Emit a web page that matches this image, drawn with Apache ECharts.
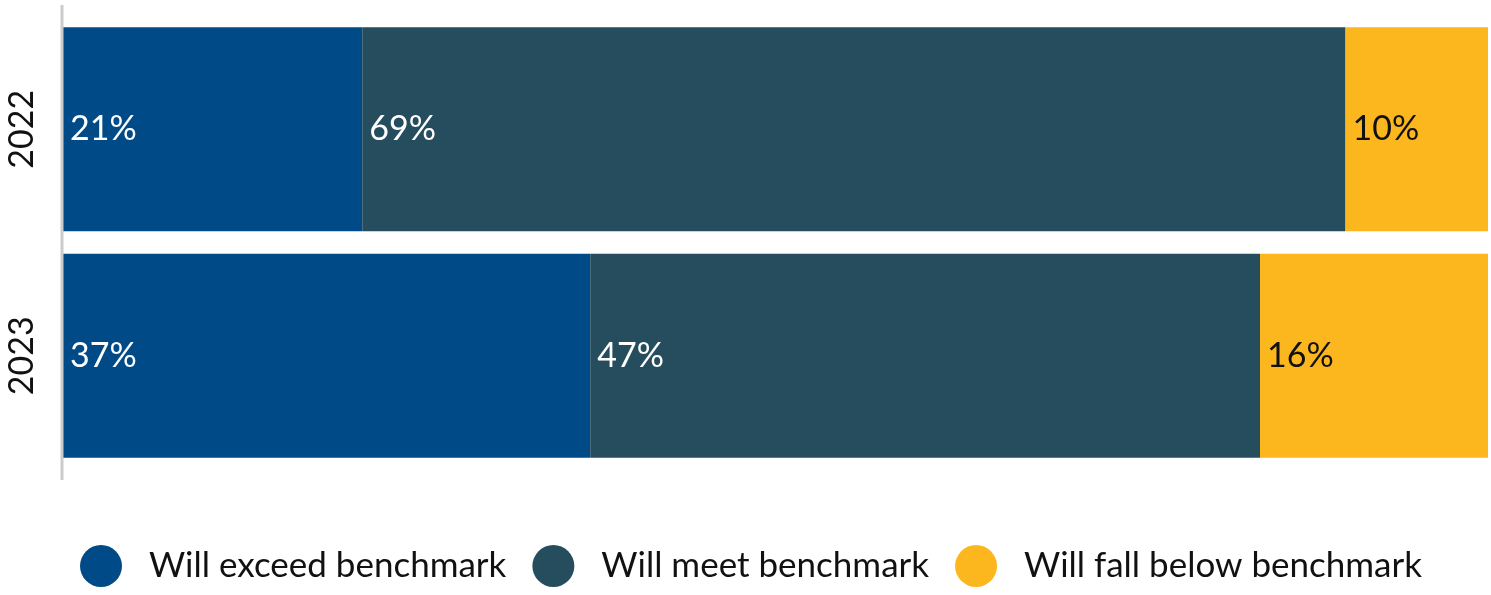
<!DOCTYPE html>
<html>
<head>
<meta charset="utf-8">
<script src="https://cdn.jsdelivr.net/npm/echarts@6/dist/echarts.min.js"></script>
<style>
html,body{margin:0;padding:0;background:#fff;}
#chart{width:1491px;height:595px;}
</style>
</head>
<body>
<div id="chart"></div>
<script>
const categories = ['2022', '2023'];
const seriesNames = ['Will exceed benchmark', 'Will meet benchmark', 'Will fall below benchmark'];
const exceedValues = [21, 37];
const meetValues = [69, 47];
const belowValues = [10, 16];
const colors = ['#004B87', '#264D5E', '#FDB71E'];
const labelColors = ['#ffffff', '#ffffff', '#111111'];

const FONT = 'Lato';
const FS = 34;
const chart = echarts.init(document.getElementById('chart'));
const values = [exceedValues, meetValues, belowValues];

const option = {
  animation: false,
  textStyle: { fontFamily: FONT },
  grid: { left: 63, right: 3, top: 16, height: 453, containLabel: false },
  xAxis: { type: 'value', min: 0, max: 100, show: false },
  yAxis: {
    type: 'category',
    data: categories,
    inverse: true,
    axisLine: { show: false },
    axisTick: { show: false },
    splitLine: { show: false },
    axisLabel: {
      rotate: 90,
      fontSize: FS,
      color: '#111',
      fontFamily: FONT,
      margin: 24
    }
  },
  legend: {
    left: 75,
    top: 540,
    icon: 'circle',
    itemWidth: 42,
    itemHeight: 42,
    itemGap: 26,
    textStyle: { fontSize: 35, color: '#111', fontFamily: FONT, padding: [0, 0, 0, 22] },
    data: seriesNames
  },
  graphic: [{
    type: 'line',
    shape: { x1: 62, y1: 5, x2: 62, y2: 480 },
    style: { stroke: '#cccccc', lineWidth: 3 },
    z: 10
  }],
  series: seriesNames.map((name, i) => ({
    name: name,
    type: 'bar',
    stack: 'total',
    barCategoryGap: '10%',
    itemStyle: { color: colors[i] },
    label: {
      show: true,
      position: 'insideLeft',
      distance: 7,
      formatter: '{c}%',
      fontSize: FS,
      color: labelColors[i],
      fontFamily: FONT
    },
    data: values[i]
  }))
};
chart.setOption(option);
</script>
</body>
</html>
